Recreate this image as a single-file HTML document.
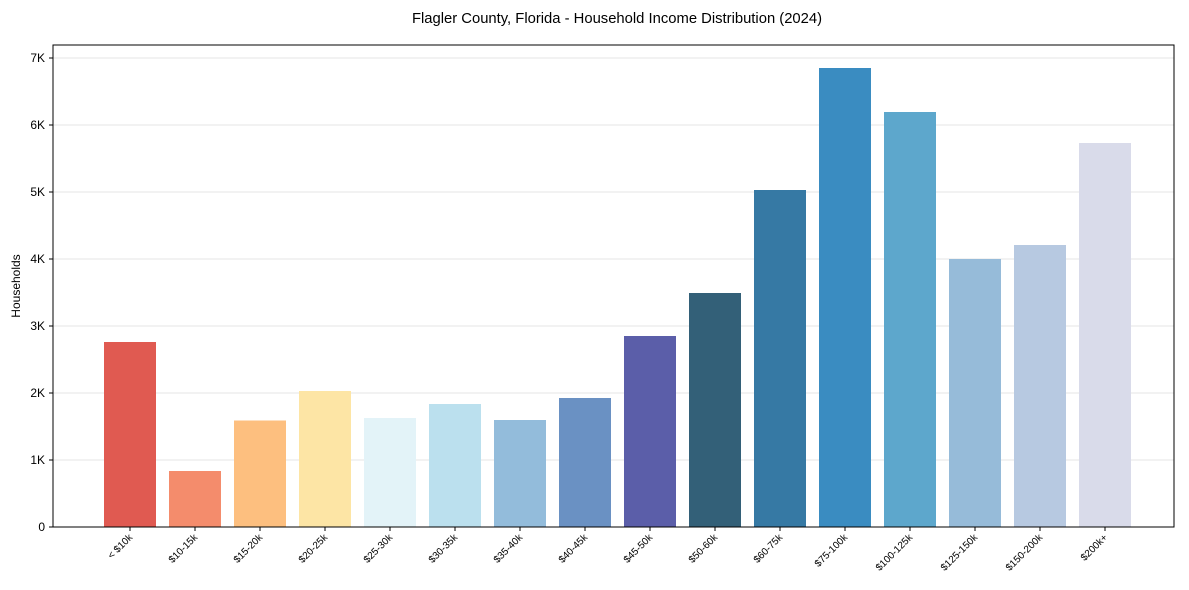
<!DOCTYPE html>
<html><head><meta charset="utf-8"><style>body{margin:0;background:#fff}svg{display:block;font-family:"Liberation Sans",Arial,sans-serif}</style></head><body>
<svg width="1189" height="590" viewBox="0 0 1189 590">
<text x="617" y="23" font-size="14.8" text-anchor="middle" fill="#000">Flagler County, Florida - Household Income Distribution (2024)</text>
<g stroke="#e6e6e6" stroke-width="1">
<line x1="53" x2="1174" y1="460" y2="460"/><line x1="53" x2="1174" y1="393" y2="393"/><line x1="53" x2="1174" y1="326" y2="326"/><line x1="53" x2="1174" y1="259" y2="259"/><line x1="53" x2="1174" y1="192" y2="192"/><line x1="53" x2="1174" y1="125" y2="125"/><line x1="53" x2="1174" y1="58" y2="58"/>
</g>
<g>
<rect x="104" y="342" width="52" height="185" fill="#e05a51"/>
<rect x="169" y="471" width="52" height="56" fill="#f48c6c"/>
<rect x="234" y="420.5" width="52" height="106.5" fill="#fdbf7f"/>
<rect x="299" y="391" width="52" height="136" fill="#fde5a5"/>
<rect x="364" y="418" width="52" height="109" fill="#e3f3f8"/>
<rect x="429" y="404" width="52" height="123" fill="#bbe0ee"/>
<rect x="494" y="420" width="52" height="107" fill="#93bcdb"/>
<rect x="559" y="398" width="52" height="129" fill="#6a91c3"/>
<rect x="624" y="336" width="52" height="191" fill="#5b5ea9"/>
<rect x="689" y="293" width="52" height="234" fill="#336078"/>
<rect x="754" y="190" width="52" height="337" fill="#3679a4"/>
<rect x="819" y="68" width="52" height="459" fill="#3a8cc1"/>
<rect x="884" y="112" width="52" height="415" fill="#5da7cc"/>
<rect x="949" y="259" width="52" height="268" fill="#96bbd9"/>
<rect x="1014" y="245" width="52" height="282" fill="#b7c9e1"/>
<rect x="1079" y="143" width="52" height="384" fill="#d9dbea"/>
</g>
<rect x="53" y="45" width="1121" height="482" fill="none" stroke="#000" stroke-width="1"/>
<g stroke="#000" stroke-width="1">
<line x1="49" x2="53" y1="527" y2="527"/><line x1="49" x2="53" y1="460" y2="460"/><line x1="49" x2="53" y1="393" y2="393"/><line x1="49" x2="53" y1="326" y2="326"/><line x1="49" x2="53" y1="259" y2="259"/><line x1="49" x2="53" y1="192" y2="192"/><line x1="49" x2="53" y1="125" y2="125"/><line x1="49" x2="53" y1="58" y2="58"/>
</g>
<g font-size="12" text-anchor="end" fill="#000">
<text x="45" y="531">0</text><text x="45" y="464">1K</text><text x="45" y="397">2K</text><text x="45" y="330">3K</text><text x="45" y="263">4K</text><text x="45" y="196">5K</text><text x="45" y="129">6K</text><text x="45" y="62">7K</text>
</g>
<text transform="translate(20,286) rotate(-90)" font-size="12" text-anchor="middle">Households</text>
<g stroke="#000" stroke-width="1">
<line x1="130" x2="130" y1="527" y2="531"/><line x1="195" x2="195" y1="527" y2="531"/><line x1="260" x2="260" y1="527" y2="531"/><line x1="325" x2="325" y1="527" y2="531"/><line x1="390" x2="390" y1="527" y2="531"/><line x1="455" x2="455" y1="527" y2="531"/><line x1="520" x2="520" y1="527" y2="531"/><line x1="585" x2="585" y1="527" y2="531"/><line x1="650" x2="650" y1="527" y2="531"/><line x1="715" x2="715" y1="527" y2="531"/><line x1="780" x2="780" y1="527" y2="531"/><line x1="845" x2="845" y1="527" y2="531"/><line x1="910" x2="910" y1="527" y2="531"/><line x1="975" x2="975" y1="527" y2="531"/><line x1="1040" x2="1040" y1="527" y2="531"/><line x1="1105" x2="1105" y1="527" y2="531"/>
</g>
<g font-size="10" text-anchor="end" fill="#000">
<text transform="translate(133,538) rotate(-45)">&lt; $10k</text>
<text transform="translate(198,538) rotate(-45)">$10-15k</text>
<text transform="translate(263,538) rotate(-45)">$15-20k</text>
<text transform="translate(328,538) rotate(-45)">$20-25k</text>
<text transform="translate(393,538) rotate(-45)">$25-30k</text>
<text transform="translate(458,538) rotate(-45)">$30-35k</text>
<text transform="translate(523,538) rotate(-45)">$35-40k</text>
<text transform="translate(588,538) rotate(-45)">$40-45k</text>
<text transform="translate(653,538) rotate(-45)">$45-50k</text>
<text transform="translate(718,538) rotate(-45)">$50-60k</text>
<text transform="translate(783,538) rotate(-45)">$60-75k</text>
<text transform="translate(848,538) rotate(-45)">$75-100k</text>
<text transform="translate(913,538) rotate(-45)">$100-125k</text>
<text transform="translate(978,538) rotate(-45)">$125-150k</text>
<text transform="translate(1043,538) rotate(-45)">$150-200k</text>
<text transform="translate(1108,538) rotate(-45)">$200k+</text>
</g>
</svg>
</body></html>
